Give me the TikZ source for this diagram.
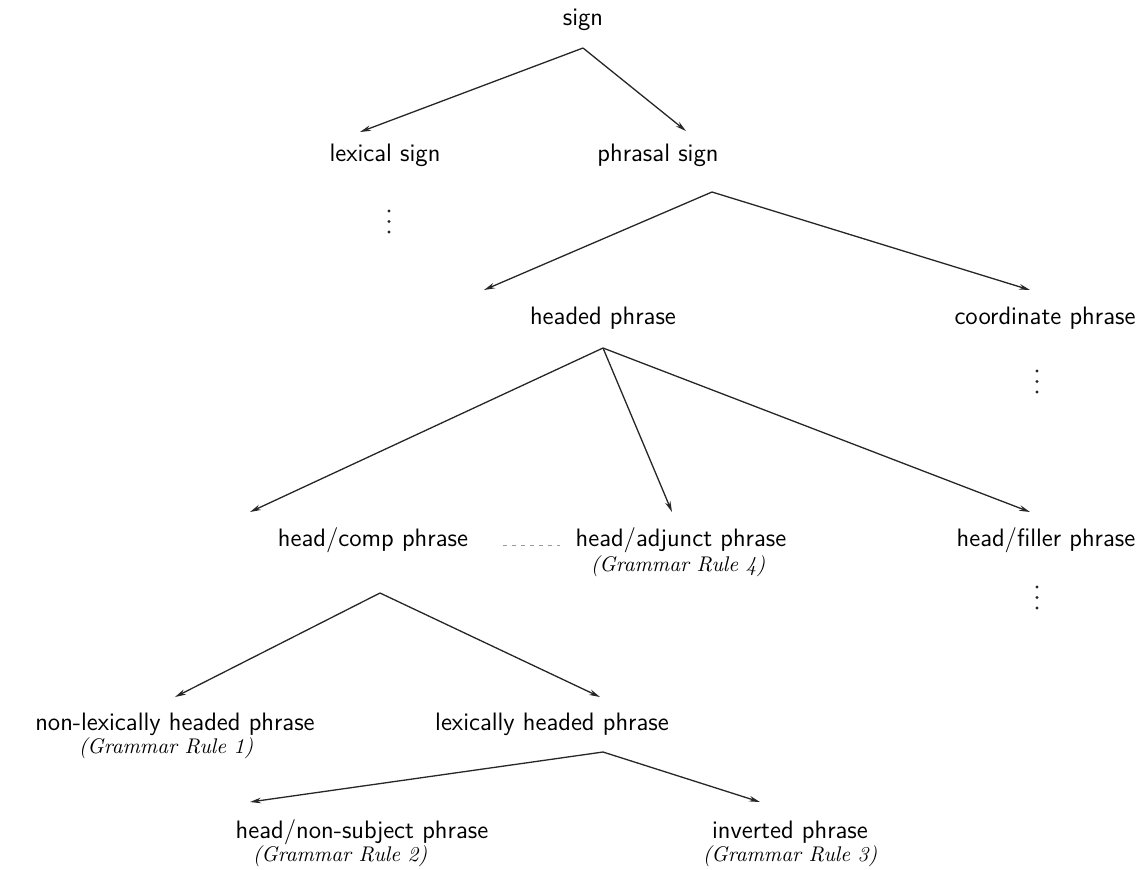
\documentclass[tikz,border=0pt]{standalone}
\usetikzlibrary{arrows.meta}
\begin{document}
\begin{tikzpicture}[x=0.5pt,y=-0.5pt,
  lbl/.style={font=\sffamily\fontsize{12.6}{14}\selectfont, inner sep=0pt, anchor=center},
  rule/.style={font=\itshape\fontsize{10.6}{12}\selectfont, inner sep=0pt, anchor=center},
  isa/.style={draw=black!85, line width=0.65pt, -{Stealth[length=5.5pt,width=2.8pt]}},
  dotmark/.style={fill=black!85, draw=none}]
\useasboundingbox (0,0) rectangle (1147,869);

% type labels
\node[lbl] (sign)   at (583,20)  {sign};
\node[lbl] (lex)    at (385,155) {lexical sign};
\node[lbl] (phr)    at (658,155) {phrasal sign};
\node[lbl] (hdd)    at (603,318) {headed phrase};
\node[lbl] (coord)  at (1045,318) {coordinate phrase};
\node[lbl] (hcomp)  at (373,540) {head/comp phrase};
\node[lbl] (hadj)   at (681,540) {head/adjunct phrase};
\node[rule] (r4)    at (678,566) {(Grammar Rule 4)};
\node[lbl] (hfill)  at (1046,540) {head/filler phrase};
\node[lbl] (nlex)   at (175,724) {non-lexically headed phrase};
\node[rule] (r1)    at (166,748) {(Grammar Rule 1)};
\node[lbl] (lhd)    at (552,724) {lexically headed phrase};
\node[lbl] (hns)    at (362,832) {head/non-subject phrase};
\node[rule] (r2)    at (340,856) {(Grammar Rule 2)};
\node[lbl] (inv)    at (790,832) {inverted phrase};
\node[rule] (r3)    at (790,856) {(Grammar Rule 3)};

% continuation dots under the open-ended types
\foreach \yy in {211,221.5,232} \fill[dotmark] (389,\yy) circle (1.6);
\foreach \yy in {371,381.5,392} \fill[dotmark] (1037,\yy) circle (1.6);
\foreach \yy in {587,597.5,608} \fill[dotmark] (1037,\yy) circle (1.6);

% branch points under each parent
\coordinate (vsign) at (583,48);
\coordinate (vphr)  at (712,192);
\coordinate (vhdd)  at (603,348);
\coordinate (vhc)   at (380,593);
\coordinate (vlhd)  at (603,752);

% arrow tips above each child
\coordinate (tlex)   at (360,132);
\coordinate (tphr)   at (686,131);
\coordinate (thdd)   at (484,290);
\coordinate (tcoord) at (1030,290);
\coordinate (thc)    at (250,512);
\coordinate (tha)    at (672,512);
\coordinate (thf)    at (1030,512);
\coordinate (tnl)    at (175,697);
\coordinate (tlh)    at (600,697);
\coordinate (thns)   at (250,802);
\coordinate (tinv)   at (760,802);

\draw[isa] (vsign) -- (tlex);
\draw[isa] (vsign) -- (tphr);
\draw[isa] (vphr) -- (thdd);
\draw[isa] (vphr) -- (tcoord);
\draw[isa] (vhdd) -- (thc);
\draw[isa] (vhdd) -- (tha);
\draw[isa] (vhdd) -- (thf);
\draw[isa] (vhc) -- (tnl);
\draw[isa] (vhc) -- (tlh);
\draw[isa] (vlhd) -- (thns);
\draw[isa] (vlhd) -- (tinv);

% faint dashed link between the two head phrases
\coordinate (dstart) at (503,545);
\coordinate (dend)   at (560,545);
\draw[black!40, line width=0.45pt, dash pattern=on 2pt off 2.5pt] (dstart) -- (dend);
\end{tikzpicture}
\end{document}
